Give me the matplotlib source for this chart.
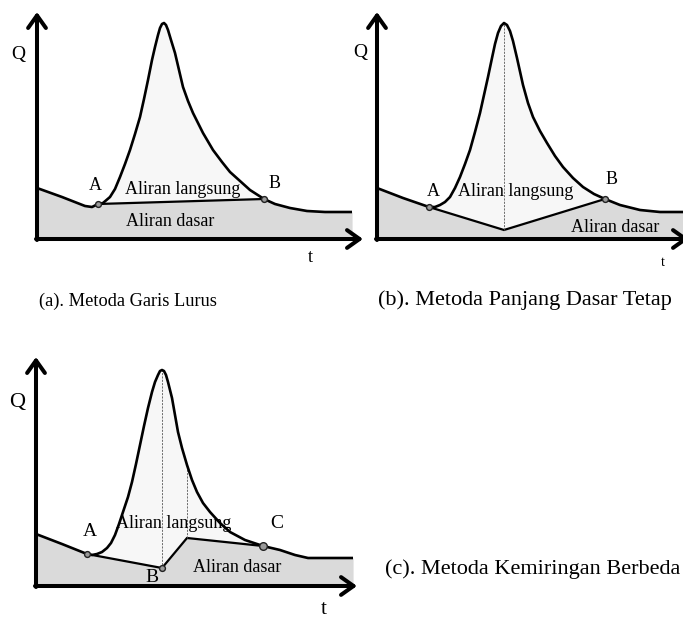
import matplotlib
matplotlib.use("Agg")
import matplotlib.pyplot as plt
import numpy as np

plt.rcParams["font.family"] = ["Liberation Serif", "DejaVu Serif"]

W, H = 683, 618
PX = 10.0  # pixels per unit of t and Q

# panel (a) Metoda Garis Lurus: hydrograph (t, Q) and straight baseflow line A-B
A_T = [0, 2.5, 4.8, 5.5, 6.1, 6.6, 7.3, 7.8, 8.3, 8.8, 9.3, 9.8, 10.3, 10.7,
       11.1, 11.5, 11.8, 12.1, 12.3, 12.5, 12.7, 12.9, 13.1, 13.4, 13.8, 14.2,
       14.6, 15.1, 15.6, 16.6, 17.6, 18.5, 19.3, 20.3, 21.3, 22.7, 23.8, 25.3,
       27.0, 28.8, 31.5]
A_Q = [5.1, 4.2, 3.3, 3.2, 3.5, 3.6, 4.2, 5.0, 6.2, 7.5, 8.9, 10.5, 12.2, 14.0,
       15.9, 17.9, 19.2, 20.4, 21.1, 21.5, 21.6, 21.4, 20.9, 19.9, 18.6, 16.9,
       15.2, 13.8, 12.6, 10.6, 8.9, 7.7, 6.7, 5.8, 4.9, 4.0, 3.5, 3.1,
       2.8, 2.7, 2.7]
A_BASE_T = [6.1, 22.7]
A_BASE_Q = [3.5, 4.0]

# panel (b) Metoda Panjang Dasar Tetap
B_T = [0, 2.6, 5.2, 5.8, 6.3, 6.8, 7.3, 7.8, 8.3, 8.8, 9.3, 9.8, 10.3, 10.7,
       11.1, 11.5, 11.8, 12.1, 12.4, 12.7, 13.0, 13.3, 13.6, 14.0, 14.6, 15.1,
       15.6, 16.3, 17.0, 17.8, 18.6, 19.6, 20.6, 21.7, 22.8, 24.3, 26.3, 28.3,
       31.3]
B_Q = [5.1, 4.1, 3.2, 3.2, 3.4, 3.7, 4.2, 5.1, 6.2, 7.5, 8.9, 10.7, 12.6, 14.4,
       16.2, 18.1, 19.5, 20.6, 21.3, 21.6, 21.4, 20.8, 19.8, 18.1, 15.4, 13.6,
       12.2, 10.8, 9.6, 8.3, 7.2, 6.1, 5.2, 4.5, 4.0, 3.4, 2.9, 2.7,
       2.7]
B_BASE_T = [5.2, 12.7, 22.8]
B_BASE_Q = [3.2, 0.9, 4.0]

# panel (c) Metoda Kemiringan Berbeda
C_T = [0, 2.6, 5.1, 5.6, 6.1, 6.6, 7.1, 7.5, 7.9, 8.3, 8.7, 9.2, 9.6, 10.0,
       10.4, 10.8, 11.2, 11.6, 11.9, 12.2, 12.4, 12.6, 12.8, 13.0, 13.2, 13.4,
       13.6, 13.9, 14.2, 14.6, 15.1, 15.6, 16.1, 16.7, 17.4, 18.4, 19.4, 20.9,
       22.7, 24.4, 25.9, 27.2, 31.7]
C_Q = [5.2, 4.2, 3.2, 3.1, 3.2, 3.4, 3.8, 4.3, 5.1, 6.2, 7.4, 8.9, 10.4, 12.2,
       14.1, 16.0, 17.8, 19.4, 20.4, 21.1, 21.5, 21.6, 21.5, 21.1, 20.4, 19.6,
       18.8, 17.1, 15.4, 13.8, 12.1, 10.6, 9.4, 8.3, 7.4, 6.3, 5.4, 4.6,
       4.0, 3.6, 3.1, 2.8, 2.8]
C_BASE_T = [5.1, 12.6, 15.1, 22.7]
C_BASE_Q = [3.2, 1.8, 4.8, 4.0]

FILL_BASE = "#dadada"
FILL_DIRECT = "#f7f7f7"


def panel_axes(fig, ox, oy):
    """Axes whose (0, 0) sits at pixel (ox, oy), measured from the top left."""
    x0, x1, y0, y1 = -3.0, 34.0, -3.0, 24.0
    left = ox + x0 * PX
    right = ox + x1 * PX
    bottom = oy - y0 * PX
    top = oy - y1 * PX
    ax = fig.add_axes([left / W, (H - bottom) / H, (right - left) / W,
                       (bottom - top) / H])
    ax.set_xlim(x0, x1)
    ax.set_ylim(y0, y1)
    ax.axis("off")
    ax.patch.set_alpha(0)
    return ax


def draw_hydrograph(ax, t, q, bt, bq, t_tip, q_tip):
    t, q, bt, bq = map(np.asarray, (t, q, bt, bq))
    before = t <= bt[0]
    after = t >= bt[-1]
    pt = np.concatenate([t[before], bt[1:-1], t[after]])
    pq = np.concatenate([q[before], bq[1:-1], q[after]])
    ax.fill_between(t, 0, q, color=FILL_DIRECT, lw=0, zorder=1)
    ax.fill_between(pt, 0, pq, color=FILL_BASE, lw=0, zorder=2)
    ax.plot(bt, bq, color="black", lw=1.6, zorder=3, solid_joinstyle="miter")
    ax.plot(t, q, color="black", lw=1.9, zorder=4, solid_capstyle="butt",
            solid_joinstyle="round")
    arrow = dict(arrowstyle="->,head_length=0.45,head_width=0.32", lw=2.9,
                 color="black", shrinkA=0, shrinkB=0, mutation_scale=20)
    ax.annotate("", xy=(0, q_tip), xytext=(0, -0.1), arrowprops=arrow, zorder=5)
    ax.annotate("", xy=(t_tip, 0), xytext=(-0.1, 0), arrowprops=arrow, zorder=5)


def mark(ax, t, q, size=4.2):
    ax.plot(t, q, "o", ms=size, mfc="#9a9a9a", mec="#222222", mew=1.0, zorder=6)


def guide(ax, t, q_top, q_bot):
    ax.plot([t, t], [q_bot, q_top], color="#555555", lw=0.6,
            ls=(0, (2.5, 1.5)), zorder=3)


fig = plt.figure(figsize=(W / 100, H / 100), dpi=100)

# (a)
ax = panel_axes(fig, 37, 239)
draw_hydrograph(ax, A_T, A_Q, A_BASE_T, A_BASE_Q, 32.6, 22.7)
mark(ax, A_BASE_T[0], A_BASE_Q[0])
mark(ax, A_BASE_T[-1], A_BASE_Q[-1])
ax.text(-1.9, 18.4, "Q", fontsize=14, ha="center", va="center")
ax.text(27.3, -1.9, "t", fontsize=13, ha="center", va="center")
ax.text(5.8, 5.4, "A", fontsize=13, ha="center", va="center")
ax.text(23.8, 5.6, "B", fontsize=13, ha="center", va="center")
ax.text(14.6, 4.9, "Aliran langsung", fontsize=13, ha="center", va="center", zorder=7)
ax.text(13.3, 1.7, "Aliran dasar", fontsize=13, ha="center", va="center", zorder=7)

# (b)
ax = panel_axes(fig, 377, 239)
draw_hydrograph(ax, B_T, B_Q, B_BASE_T, B_BASE_Q, 31.2, 22.7)
guide(ax, B_BASE_T[1], B_Q[int(np.argmax(B_Q))], B_BASE_Q[1])
mark(ax, B_BASE_T[0], B_BASE_Q[0])
mark(ax, B_BASE_T[-1], B_BASE_Q[-1])
ax.text(-1.7, 18.6, "Q", fontsize=14, ha="center", va="center")
ax.text(28.6, -2.3, "t", fontsize=10, ha="center", va="center")
ax.text(5.6, 4.8, "A", fontsize=13, ha="center", va="center")
ax.text(23.5, 5.9, "B", fontsize=13, ha="center", va="center")
ax.text(13.9, 4.7, "Aliran langsung", fontsize=13, ha="center", va="center", zorder=7)
ax.text(23.8, 1.2, "Aliran dasar", fontsize=13, ha="center", va="center", zorder=7)

# (c)
ax = panel_axes(fig, 36, 586)
draw_hydrograph(ax, C_T, C_Q, C_BASE_T, C_BASE_Q, 32.1, 22.9)
guide(ax, C_BASE_T[1], C_Q[int(np.argmax(C_Q))], C_BASE_Q[1])
guide(ax, C_BASE_T[2], np.interp(C_BASE_T[2], C_T, C_Q), C_BASE_Q[2])
mark(ax, C_BASE_T[0], C_BASE_Q[0])
mark(ax, C_BASE_T[1], C_BASE_Q[1])
mark(ax, C_BASE_T[-1], C_BASE_Q[-1], size=5.5)
ax.text(-1.9, 18.3, "Q", fontsize=16, ha="center", va="center")
ax.text(28.8, -2.4, "t", fontsize=15, ha="center", va="center")
ax.text(5.4, 5.4, "A", fontsize=14, ha="center", va="center")
ax.text(11.6, 0.8, "B", fontsize=14, ha="center", va="center", zorder=7)
ax.text(24.1, 6.2, "C", fontsize=14, ha="center", va="center")
ax.text(13.8, 6.2, "Aliran langsung", fontsize=13, ha="center", va="center", zorder=7)
ax.text(20.1, 1.8, "Aliran dasar", fontsize=13, ha="center", va="center", zorder=7)

# captions
fig.text(39 / W, 1 - 301 / H, "(a). Metoda Garis Lurus", fontsize=13.2,
         ha="left", va="center")
fig.text(525 / W, 1 - 300 / H, "(b). Metoda Panjang Dasar Tetap", fontsize=16,
         ha="center", va="center")
fig.text(385 / W, 1 - 569 / H, "(c). Metoda Kemiringan Berbeda", fontsize=16,
         ha="left", va="center")

fig.savefig("out.png", dpi=100)
